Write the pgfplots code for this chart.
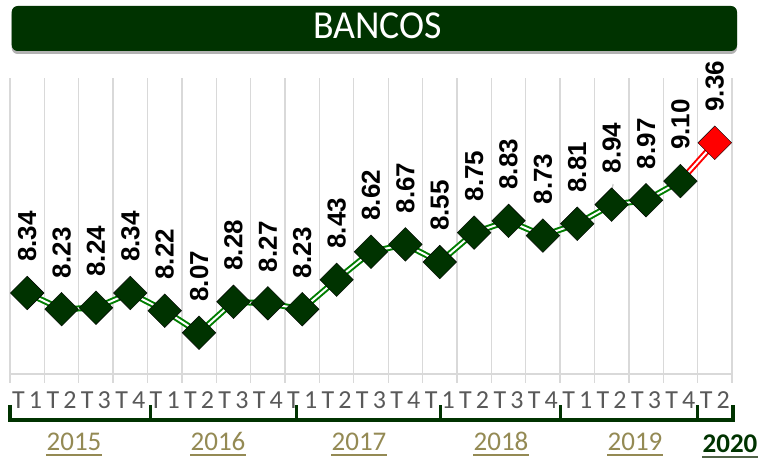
\documentclass[border=0pt]{standalone}
\usepackage{pgfplots}
\pgfplotsset{compat=1.18}
\usepackage{fontspec}
\setmainfont{Carlito}
\newfontfamily\arialf{Liberation Sans}
\usetikzlibrary{shadows}
\definecolor{dkgreen}{RGB}{0,51,0}
\definecolor{lngreen}{RGB}{0,125,0}
\definecolor{gridgray}{RGB}{217,217,217}
\definecolor{ticklab}{RGB}{89,89,89}
\definecolor{olivey}{RGB}{148,138,84}
\definecolor{ulgreen}{RGB}{79,98,70}
\newcommand{\T}[1]{T\hspace{0.16em}#1}
\begin{document}
\begin{tikzpicture}
\useasboundingbox (0,0) rectangle (761pt,460pt);
% title banner
\fill[dkgreen, rounded corners=6pt, drop shadow={shadow xshift=0pt, shadow yshift=-3pt, opacity=0.3, fill=black}] (11.7pt,409pt) rectangle (737pt,454pt);
\node[text=white, inner sep=0pt, font=\fontsize{36}{36}\selectfont] at (377.5pt,434pt) {\scalebox{1.05}[1.1]{BANCOS}};
\begin{axis}[
  at={(10pt,86pt)}, anchor=south west,
  scale only axis, width=722pt, height=296pt,
  xmin=-0.5, xmax=20.5, ymin=7.79, ymax=9.80,
  clip=false,
  axis x line=bottom, axis y line=none,
  x axis line style={-, draw=gridgray, line width=1.3pt},
  xtick={0,...,20},
  xticklabels={\T1,\T2,\T3,\T4,\T1,\T2,\T3,\T4,\T1,\T2,\T3,\T4,\T1,\T2,\T3,\T4,\T1,\T2,\T3,\T4,\T2},
  major tick length=0pt,
  minor xtick={-0.5,0.5,...,20.5},
  minor tick length=9pt,
  tick align=outside,
  xminorgrids=true,
  minor grid style={gridgray, line width=1.3pt},
  minor tick style={gridgray, line width=1.3pt},
  xticklabel style={font=\fontsize{26}{26}\selectfont, text=ticklab, anchor=base, yshift=-35pt, inner sep=0pt},
  every node near coord/.append style={font=\arialf\bfseries\fontsize{26}{26}\selectfont, text=black, anchor=west, inner sep=0pt, yshift=31pt, rotate=90},
]
% red last segment
\addplot[draw=red, line width=2pt, double=white, double distance=2pt, no marks] coordinates {(19,9.10) (20,9.36)};
% main line
\addplot[draw=lngreen, line width=2pt, double=white, double distance=2pt, no marks]
  coordinates {
  (0,8.34) (1,8.23) (2,8.24) (3,8.34)
  (4,8.22) (5,8.07) (6,8.28) (7,8.27)
  (8,8.23) (9,8.43) (10,8.62) (11,8.67)
  (12,8.55) (13,8.75) (14,8.83) (15,8.73)
  (16,8.81) (17,8.94) (18,8.97) (19,9.10)
  };
% markers and labels
\addplot[only marks, mark=square*, mark size=11.9pt, mark options={rotate=45, fill=dkgreen, draw=none},
  nodes near coords={\pgfmathprintnumber[fixed, fixed zerofill, precision=2, assume math mode=true]{\pgfplotspointmeta}}]
  coordinates {
  (0,8.34) (1,8.23) (2,8.24) (3,8.34)
  (4,8.22) (5,8.07) (6,8.28) (7,8.27)
  (8,8.23) (9,8.43) (10,8.62) (11,8.67)
  (12,8.55) (13,8.75) (14,8.83) (15,8.73)
  (16,8.81) (17,8.94) (18,8.97) (19,9.10)
  };
% last point
\addplot[only marks, mark=square*, mark size=11.9pt, mark options={rotate=45, fill=red, draw=none},
  nodes near coords={\pgfmathprintnumber[fixed, fixed zerofill, precision=2, assume math mode=true]{\pgfplotspointmeta}}]
  coordinates {(20,9.36)};
% leader line for 8.94
\draw[gray!70, line width=0.8pt] (axis cs:17.04,9.08) -- (axis cs:16.98,8.95);
\end{axis}
% year bracket
\draw[dkgreen, line width=3.5pt, line join=miter]
  (10pt,55pt) -- (10pt,40pt) -- (733pt,40pt) -- (733pt,55pt);
\foreach \xx in {150,296,440,560,697}{
  \draw[dkgreen, line width=3pt] (\xx pt,40pt) -- (\xx pt,55pt);
}
% years
\foreach \xx/\yy in {74/2015,218/2016,359/2017,501/2018,635/2019}{
  \node[anchor=base, inner sep=0pt, text=olivey, font=\fontsize{27}{27}\selectfont] (y\yy) at (\xx pt,9pt) {\yy};
  \draw[olivey, line width=1.3pt] ([yshift=-3.5pt]y\yy.south west) -- ([yshift=-3.5pt]y\yy.south east);
}
\node[anchor=base, inner sep=0pt, text=dkgreen, font=\bfseries\fontsize{27}{27}\selectfont] (y2020) at (730pt,7pt) {2020};
\draw[ulgreen, line width=2pt] ([yshift=-3.5pt]y2020.south west) -- ([yshift=-3.5pt]y2020.south east);
\end{tikzpicture}
\end{document}
